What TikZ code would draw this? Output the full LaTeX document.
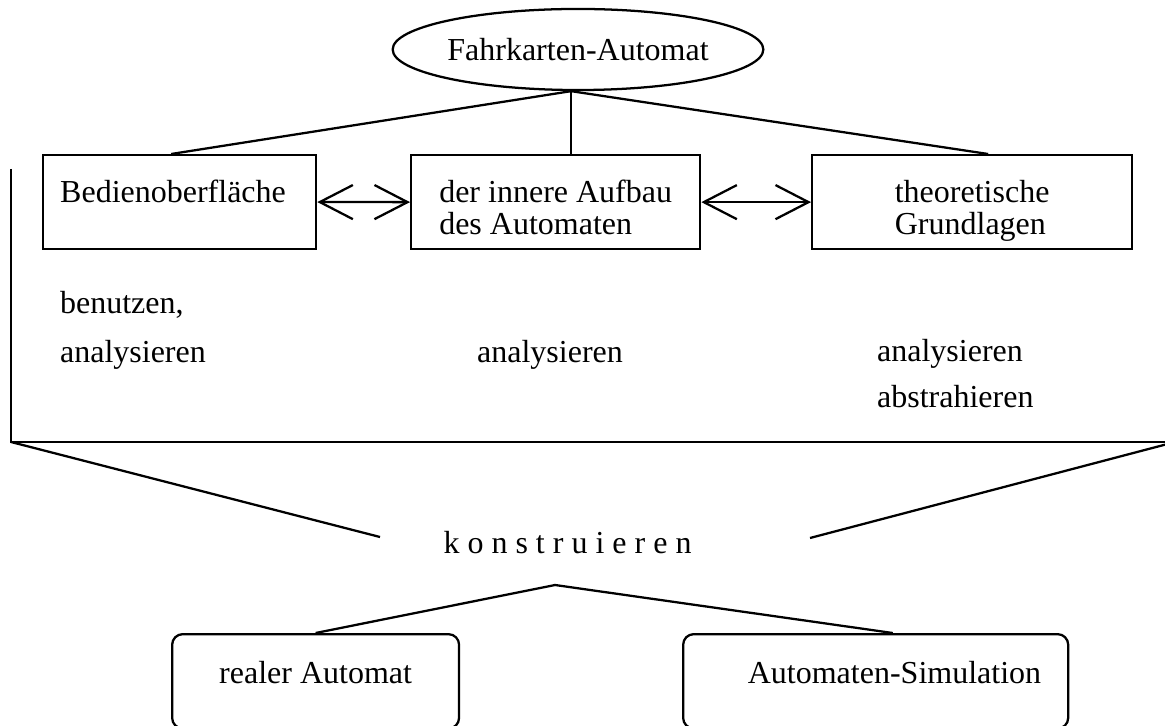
\documentclass[tikz,border=0pt]{standalone}
\usepackage{fontspec}
\setmainfont{Liberation Serif}
\usetikzlibrary{shapes.geometric,arrows.meta,calc}
\begin{document}
\begin{tikzpicture}[x=0.375pt,y=-0.375pt,
  font=\fontsize{12}{18}\selectfont,
  line width=0.85pt,
  topbox/.style={draw,rectangle,anchor=north west,inner ysep=0pt,
    text height=17.6pt,text depth=17.6pt},
  twobox/.style={draw,rectangle,anchor=north west,inner ysep=0pt,align=left,
    font=\fontsize{12}{12}\selectfont,text height=29.6pt,text depth=5.65pt},
  roundbox/.style={draw,rectangle,rounded corners=4pt,anchor=north west,inner ysep=0pt,
    text height=18.4pt,text depth=17pt},
  oval/.style={draw,ellipse,inner sep=0pt,minimum width=139pt,minimum height=30.4pt},
  verb/.style={anchor=base west,align=left,inner sep=0pt},
  dbl/.style={{Straight Barb[length=12.4pt,width=12.8pt]}-{Straight Barb[length=12.4pt,width=12.8pt]}}
]
\clip (0,0) rectangle (1165,726);

% top ellipse
\node[oval] (fa) at (578,49.5) {Fahrkarten-Automat};
\coordinate (j) at ([xshift=-2.6pt]fa.south);

% three boxes
\node[topbox,minimum width=102.4pt,text width=89.6pt,inner xsep=6.4pt,align=left]
  (b1) at (42,154) {Bedienoberfläche};
\node[twobox,minimum width=108.4pt] (b2) at (410,154)
  {der innere Aufbau\\des Automaten};
\node[twobox,minimum width=120pt] (b3) at (811,154)
  {theoretische\\Grundlagen};

\draw (j) -- ([xshift=-3.2pt]b1.north);
\draw (j) -- (j |- b2.north);
\draw (j) -- ([xshift=6pt]b3.north);

\draw[dbl] (b1.east) -- (b2.west);
\draw[dbl] (b2.east) -- (b3.west);

% activities (base anchor = last line)
\node[verb] (t1) at (59,362) {benutzen,\\analysieren};
\node[verb] (t2) at (476,362) {analysieren};
\node[verb,font=\fontsize{12}{17.3}\selectfont] (t3) at (876,408) {analysieren\\abstrahieren};

% bracket
\coordinate (vt) at (11,169);
\coordinate (bl) at (11,442);
\coordinate (br) at (1165,442);
\coordinate (kl) at (380,537);
\coordinate (kr) at (810,538);
\draw (vt) -- (bl) -- (br);
\draw (bl) -- (kl);
\draw ([yshift=-1pt]br) -- (kr);

\node[anchor=base] (k) at (567.5,553) {k o n s t r u i e r e n};
\coordinate (peak) at (555,585);

% bottom boxes
\node[roundbox,minimum width=107.6pt] (b4) at (171,633) {realer Automat};
\node[roundbox,minimum width=144.4pt,text width=124.1pt,inner xsep=10.15pt,align=right]
  (b5) at (682,633) {Automaten-Simulation};

\draw (b4.north) -- (peak) -- ([xshift=6.4pt]b5.north);
\end{tikzpicture}
\end{document}
